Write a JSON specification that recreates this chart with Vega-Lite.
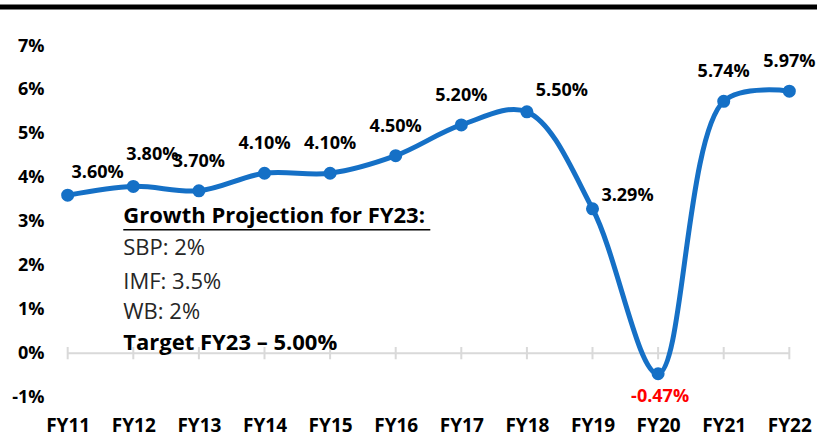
{
  "$schema": "https://vega.github.io/schema/vega-lite/v6.json",
  "autosize": "none",
  "width": 761,
  "height": 351,
  "padding": {"left": 48, "top": 46, "right": 8, "bottom": 39},
  "background": "white",
  "config": {
    "view": {"stroke": null},
    "font": "Open Sans",
    "locale": {"number": {"decimal": ".", "thousands": ",", "grouping": [3], "currency": ["$", ""], "minus": "-"}},
    "axis": {"grid": false, "domain": false, "ticks": false, "labelFont": "Open Sans", "labelFontWeight": "bold", "labelColor": "#000000", "labelFontSize": 18, "title": null}
  },
  "datasets": {
    "growth": [
      {"fy": "FY11", "v": 0.036},
      {"fy": "FY12", "v": 0.038},
      {"fy": "FY13", "v": 0.037},
      {"fy": "FY14", "v": 0.041},
      {"fy": "FY15", "v": 0.041},
      {"fy": "FY16", "v": 0.045},
      {"fy": "FY17", "v": 0.052},
      {"fy": "FY18", "v": 0.055},
      {"fy": "FY19", "v": 0.0329},
      {"fy": "FY20", "v": -0.0047},
      {"fy": "FY21", "v": 0.0574},
      {"fy": "FY22", "v": 0.0597}
    ],
    "one": [{"k": 1}]
  },
  "data": {"name": "growth"},
  "layer": [
    {
      "data": {"name": "one"},
      "mark": {"type": "rule", "color": "#000000", "strokeWidth": 5, "xOffset": -68, "x2Offset": 28},
      "encoding": {"x": {"datum": "FY11"}, "x2": {"datum": "FY22"}, "y": {"datum": 0.0789}}
    },
    {
      "data": {"name": "one"},
      "mark": {"type": "rule", "color": "#d9d9d9", "strokeWidth": 2},
      "encoding": {
        "x": {"datum": "FY11"},
        "x2": {"datum": "FY22"},
        "y": {"datum": 0}
      }
    },
    {
      "mark": {"type": "rule", "color": "#d9d9d9", "strokeWidth": 2},
      "encoding": {
        "x": {"field": "fy", "type": "ordinal"},
        "y": {"datum": -0.0014},
        "y2": {"datum": 0.0014}
      }
    },
    {
      "mark": {"type": "line", "color": "#1570C6", "strokeWidth": 5, "interpolate": "catmull-rom"},
      "encoding": {
        "x": {"field": "fy", "type": "ordinal", "scale": {"type": "point", "padding": 0.3}, "axis": {"labelPadding": 28, "labelAngle": 0, "labelAlign": "center", "labelFontSize": 19}},
        "y": {"field": "v", "type": "quantitative", "scale": {"domain": [-0.01, 0.07], "nice": false, "zero": false}, "axis": {"format": ".0%", "values": [-0.01, 0, 0.01, 0.02, 0.03, 0.04, 0.05, 0.06, 0.07], "labelPadding": 4}}
      }
    },
    {
      "mark": {"type": "point", "filled": true, "opacity": 1, "color": "#1570C6", "size": 170},
      "encoding": {
        "x": {"field": "fy", "type": "ordinal"},
        "y": {"field": "v", "type": "quantitative"}
      }
    },
    {
      "transform": [{"filter": {"field": "fy", "oneOf": ["FY13", "FY14", "FY15", "FY16", "FY17", "FY21", "FY22"]}}],
      "mark": {"type": "text", "fontWeight": "bold", "fontSize": 18, "dy": -29, "color": "#000000"},
      "encoding": {
        "x": {"field": "fy", "type": "ordinal"},
        "y": {"field": "v", "type": "quantitative"},
        "text": {"field": "v", "type": "quantitative", "format": ".2%"}
      }
    },
    {
      "transform": [{"filter": {"field": "fy", "equal": "FY11"}}],
      "mark": {"type": "text", "fontWeight": "bold", "fontSize": 18, "dy": -22, "dx": 30, "color": "#000000"},
      "encoding": {
        "x": {"field": "fy", "type": "ordinal"},
        "y": {"field": "v", "type": "quantitative"},
        "text": {"field": "v", "type": "quantitative", "format": ".2%"}
      }
    },
    {
      "transform": [{"filter": {"field": "fy", "equal": "FY12"}}],
      "mark": {"type": "text", "fontWeight": "bold", "fontSize": 18, "dy": -31, "dx": 19, "color": "#000000"},
      "encoding": {
        "x": {"field": "fy", "type": "ordinal"},
        "y": {"field": "v", "type": "quantitative"},
        "text": {"field": "v", "type": "quantitative", "format": ".2%"}
      }
    },
    {
      "transform": [{"filter": {"field": "fy", "equal": "FY18"}}],
      "mark": {"type": "text", "fontWeight": "bold", "fontSize": 18, "dy": -21, "dx": 35, "color": "#000000"},
      "encoding": {
        "x": {"field": "fy", "type": "ordinal"},
        "y": {"field": "v", "type": "quantitative"},
        "text": {"field": "v", "type": "quantitative", "format": ".2%"}
      }
    },
    {
      "transform": [{"filter": {"field": "fy", "equal": "FY19"}}],
      "mark": {"type": "text", "fontWeight": "bold", "fontSize": 18, "dy": -13, "dx": 35, "color": "#000000"},
      "encoding": {
        "x": {"field": "fy", "type": "ordinal"},
        "y": {"field": "v", "type": "quantitative"},
        "text": {"field": "v", "type": "quantitative", "format": ".2%"}
      }
    },
    {
      "transform": [{"filter": {"field": "fy", "equal": "FY20"}}],
      "mark": {"type": "text", "fontWeight": "bold", "fontSize": 18, "dy": 23, "dx": 2, "color": "#FF0000"},
      "encoding": {
        "x": {"field": "fy", "type": "ordinal"},
        "y": {"field": "v", "type": "quantitative"},
        "text": {"field": "v", "type": "quantitative", "format": ".2%"}
      }
    },
    {
      "data": {"name": "one"},
      "mark": {"type": "text", "align": "left", "dx": -10, "fontSize": 22, "fontWeight": "bold", "color": "#000000", "text": "Growth Projection for FY23:"},
      "encoding": {"x": {"datum": "FY12"}, "y": {"datum": 0.0313}}
    },
    {
      "data": {"name": "one"},
      "mark": {"type": "rule", "color": "#000000", "strokeWidth": 1.5, "xOffset": -10, "x2Offset": -31},
      "encoding": {"x": {"datum": "FY12"}, "x2": {"datum": "FY17"}, "y": {"datum": 0.0281}}
    },
    {
      "data": {"name": "one"},
      "mark": {"type": "text", "align": "left", "dx": -10, "fontSize": 22, "color": "#262626", "text": "SBP: 2%"},
      "encoding": {"x": {"datum": "FY12"}, "y": {"datum": 0.0240}}
    },
    {
      "data": {"name": "one"},
      "mark": {"type": "text", "align": "left", "dx": -10, "fontSize": 22, "color": "#262626", "text": "IMF: 3.5%"},
      "encoding": {"x": {"datum": "FY12"}, "y": {"datum": 0.0162}}
    },
    {
      "data": {"name": "one"},
      "mark": {"type": "text", "align": "left", "dx": -10, "fontSize": 22, "color": "#262626", "text": "WB: 2%"},
      "encoding": {"x": {"datum": "FY12"}, "y": {"datum": 0.0094}}
    },
    {
      "data": {"name": "one"},
      "mark": {"type": "text", "align": "left", "dx": -10, "fontSize": 22, "fontWeight": "bold", "color": "#000000", "text": "Target FY23 – 5.00%"},
      "encoding": {"x": {"datum": "FY12"}, "y": {"datum": 0.0023}}
    }
  ]
}
